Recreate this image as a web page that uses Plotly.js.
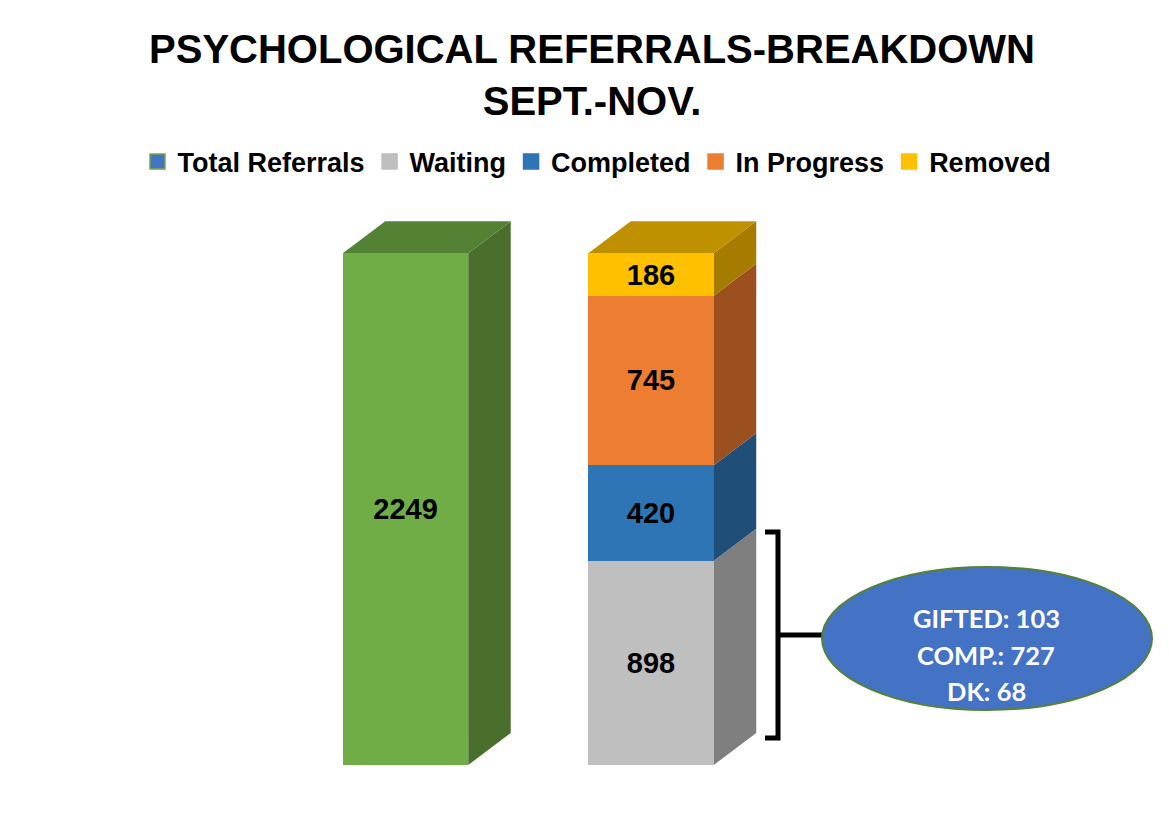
<!DOCTYPE html>
<html>
<head>
<meta charset="utf-8">
<script src="https://cdn.plot.ly/plotly-3.0.1.min.js"></script>
<style>
  html, body { margin: 0; padding: 0; background: #ffffff; }
  #chart { width: 1169px; height: 839px; }
</style>
</head>
<body>
<div id="chart"></div>
<script>
// ---------------- DATA ----------------
const categories = ['Total Referrals', 'Breakdown'];
const totalValues = [2249];
const breakdownNames = ['Waiting', 'Completed', 'In Progress', 'Removed'];
const breakdownValues = [898, 420, 745, 186];
const legendNames = ['Total Referrals', 'Waiting', 'Completed', 'In Progress', 'Removed'];
const waitingDetailLabels = ['GIFTED', 'COMP.', 'DK'];
const waitingDetailValues = [103, 727, 68];
const titleLines = ['PSYCHOLOGICAL REFERRALS-BREAKDOWN', 'SEPT.-NOV.'];

// ---------------- STYLE ----------------
const W = 1169, H = 839;
const M = {l: 0, r: 0, t: 196, b: 74};
const plotH = H - M.t - M.b;
const pxPerUnitY = 0.2275;
const yMax = plotH / pxPerUnitY;
const xCenter0 = 405.5, xSpacing = 245.5;
const xMin = -xCenter0 / xSpacing;
const xMax = (W - xCenter0) / xSpacing;
const barWidth = 0.511;
const depthX = 42.5 / xSpacing;
const depthY = 32 / pxPerUnitY;

const frontColors = {'Total Referrals': '#70ad47', 'Waiting': '#bfbfbf', 'Completed': '#2e75b6', 'In Progress': '#ed7d31', 'Removed': '#ffc000'};
const sideColors = {'Total Referrals': '#4a6e2b', 'Waiting': '#7f7f7f', 'Completed': '#1f4e79', 'In Progress': '#9c4f1f', 'Removed': '#a67c00'};
const topColors = {'Total Referrals': '#548235', 'Removed': '#bf9000'};
const legendFill = {'Total Referrals': '#4472c4', 'Waiting': '#bfbfbf', 'Completed': '#2e75b6', 'In Progress': '#ed7d31', 'Removed': '#ffc000'};
const legendBorder = {'Total Referrals': '#70ad47', 'Waiting': '#bfbfbf', 'Completed': '#2e75b6', 'In Progress': '#ed7d31', 'Removed': '#ffc000'};

const boldFont = 'Liberation Sans, Arial, sans-serif';
const labelFont = {family: boldFont, size: 29, color: '#000000', weight: 'bold'};

// ---------------- TRACES ----------------
const traces = [];
traces.push({
  type: 'bar', x: [0], y: totalValues, name: categories[0],
  width: barWidth, marker: {color: frontColors['Total Referrals'], line: {width: 0}},
  text: totalValues.map(String), textposition: 'inside', insidetextanchor: 'middle',
  constraintext: 'none', textfont: labelFont, showlegend: false, hoverinfo: 'skip'
});
breakdownNames.forEach((name, i) => {
  traces.push({
    type: 'bar', x: [1], y: [breakdownValues[i]], name: name,
    width: barWidth, marker: {color: frontColors[name], line: {width: 0}},
    text: [String(breakdownValues[i])], textposition: 'inside', insidetextanchor: 'middle',
    constraintext: 'none', textfont: labelFont, showlegend: false, hoverinfo: 'skip'
  });
});
// legend entries
legendNames.forEach(name => {
  traces.push({
    type: 'scatter', mode: 'markers', x: [null], y: [null], name: name,
    marker: {symbol: 'square', size: 15, color: legendFill[name], line: {color: legendBorder[name], width: 1.5}},
    hoverinfo: 'skip', showlegend: true
  });
});

// ---------------- 3D FACES ----------------
const shapes = [];
function sideFace(xc, y0, y1, color) {
  const xr = xc + barWidth / 2;
  return {type: 'path', xref: 'x', yref: 'y', layer: 'below',
    path: `M ${xr},${y0} L ${xr + depthX},${y0 + depthY} L ${xr + depthX},${y1 + depthY} L ${xr},${y1} Z`,
    fillcolor: color, line: {width: 0}};
}
function topFace(xc, y, color) {
  const xl = xc - barWidth / 2, xr = xc + barWidth / 2;
  return {type: 'path', xref: 'x', yref: 'y', layer: 'below',
    path: `M ${xl},${y} L ${xl + depthX},${y + depthY} L ${xr + depthX},${y + depthY} L ${xr},${y} Z`,
    fillcolor: color, line: {width: 0}};
}
shapes.push(sideFace(0, 0, totalValues[0], sideColors['Total Referrals']));
shapes.push(topFace(0, totalValues[0], topColors['Total Referrals']));
let cum = 0;
breakdownNames.forEach((name, i) => {
  const y0 = cum, y1 = cum + breakdownValues[i];
  shapes.push(sideFace(1, y0, y1, sideColors[name]));
  cum = y1;
});
shapes.push(topFace(1, cum, topColors['Removed']));

// bracket & ellipse (pixel positions -> paper)
const px = v => v / W;
const py = v => (H - M.b - v) / plotH;
const bracketX = 778, bracketL = 765;
const bracketTop = 532, bracketBot = 738, armY = 635;
shapes.push({type: 'path', xref: 'paper', yref: 'paper', layer: 'above',
  path: `M ${px(bracketL)},${py(bracketTop)} L ${px(bracketX)},${py(bracketTop)} L ${px(bracketX)},${py(bracketBot)} L ${px(bracketL)},${py(bracketBot)}`,
  line: {color: '#000000', width: 5}});
shapes.push({type: 'line', xref: 'paper', yref: 'paper', layer: 'above',
  x0: px(bracketX), x1: px(824), y0: py(armY), y1: py(armY),
  line: {color: '#000000', width: 5}});
shapes.push({type: 'circle', xref: 'paper', yref: 'paper', layer: 'above',
  x0: px(822), x1: px(1152), y0: py(710), y1: py(567),
  fillcolor: '#4472c4', line: {color: '#548235', width: 2}});

// ---------------- ANNOTATIONS ----------------
const annotations = [];
const detailY = [618, 655, 691];
waitingDetailLabels.forEach((lab, i) => {
  annotations.push({xref: 'paper', yref: 'paper', x: px(986), y: py(detailY[i]),
    xanchor: 'center', yanchor: 'middle', showarrow: false,
    text: `${lab}: ${waitingDetailValues[i]}`,
    font: {family: 'Lato, Open Sans, sans-serif', size: 25.5, color: '#ffffff', weight: 'bold'}});
});

const layout = {
  width: W, height: H,
  margin: M,
  paper_bgcolor: '#ffffff', plot_bgcolor: '#ffffff',
  barmode: 'stack',
  title: {text: titleLines.join('<br>'), x: px(592), xanchor: 'center', xref: 'paper',
    y: 1 - 63 / H, yanchor: 'top', yref: 'container',
    font: {family: boldFont, size: 40, color: '#000000', weight: 'bold'}},
  xaxis: {range: [xMin, xMax], showgrid: false, zeroline: false, showticklabels: false, ticks: '', showline: false, fixedrange: true},
  yaxis: {range: [0, yMax], showgrid: false, zeroline: false, showticklabels: false, ticks: '', showline: false, fixedrange: true},
  legend: {orientation: 'h', traceorder: 'normal', x: px(597), xanchor: 'center', y: py(162), yanchor: 'middle',
    font: {family: boldFont, size: 27, color: '#000000', weight: 'bold'}, itemclick: false, itemdoubleclick: false},
  shapes: shapes,
  annotations: annotations,
  showlegend: true
};

Plotly.newPlot('chart', traces, layout, {displayModeBar: false, staticPlot: true});
</script>
</body>
</html>
